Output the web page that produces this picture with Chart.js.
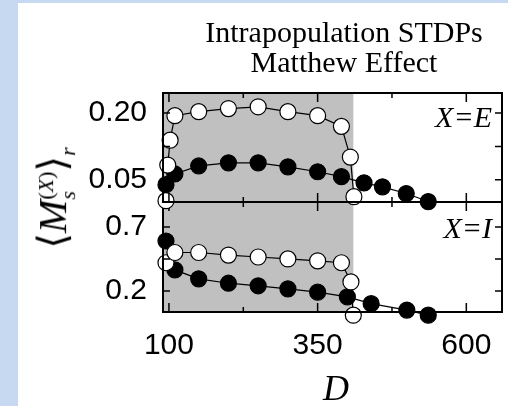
<!DOCTYPE html>
<html>
<head>
<meta charset="utf-8">
<script src="https://cdn.jsdelivr.net/npm/chart.js@4/dist/chart.umd.min.js"></script>
<style>
  body { margin: 0; background: #c6d9f1; width: 508px; height: 406px; overflow: hidden; position: relative; }
  #sheet { position: absolute; left: 18px; top: 3px; width: 490px; height: 403px; background: #fff; }
  canvas { position: absolute; left: 0; }
  .txt { position: absolute; font-family: "Liberation Serif", "DejaVu Serif", serif; color: #000; white-space: nowrap; }
</style>
</head>
<body>
<div id="sheet"></div>
<canvas id="lowChart" width="508" height="256" style="top:150px"></canvas>
<canvas id="topChart" width="508" height="250" style="top:0px"></canvas>

<div class="txt" style="left:344px; top:47px; transform:translate(-50%,-50%); font-size:30px; line-height:30px; text-align:center">Intrapopulation STDPs<br>Matthew Effect</div>
<div class="txt" style="right:16px; top:100px; font-size:30px; font-style:italic">X=E</div>
<div class="txt" style="right:16px; top:211px; font-size:30px; font-style:italic">X=I</div>
<div class="txt" style="left:336px; top:388px; transform:translate(-50%,-50%); font-size:36px; font-style:italic">D</div>
<div class="txt" id="ylab" style="left:55px; top:198px; transform:translate(-50%,-50%) rotate(-90deg); font-size:40px">&#x27E8;<i>M</i><span style="display:inline-flex; flex-direction:column; font-size:0.55em; line-height:1; vertical-align:middle"><span>(<i>X</i>)</span><span><i>s</i></span></span>&#x27E9;<span style="font-size:0.55em; vertical-align:-0.4em"><i>r</i></span></div>

<script>
// D and <M_s> values
const dEOpen = [95, 98, 102, 110, 150, 200, 250, 300, 350, 390, 405, 411];
const mEOpen = [0.003, 0.083, 0.139, 0.194, 0.203, 0.210, 0.214, 0.203, 0.194, 0.170, 0.101, 0.012];
const dEBlack = [95, 110, 150, 200, 250, 300, 350, 390, 428, 459, 499, 536];
const mEBlack = [0.039, 0.063, 0.081, 0.088, 0.088, 0.079, 0.068, 0.057, 0.043, 0.034, 0.019, 0.001];

const dIOpen = [95, 110, 150, 200, 250, 300, 350, 390, 406, 410];
const mIOpen = [0.42, 0.50, 0.50, 0.48, 0.465, 0.45, 0.435, 0.42, 0.27, 0.01];
const dIBlack = [95, 110, 150, 200, 250, 300, 350, 400, 440, 500, 536];
const mIBlack = [0.59, 0.364, 0.294, 0.26, 0.24, 0.216, 0.19, 0.153, 0.10, 0.05, 0.01];

const xTicks = [100, 225, 350, 475, 600];
const xLabels = [100, 350, 600];
const yTicksE = [0.05, 0.125, 0.20];
const yLabelsE = [0.05, 0.20];
const yTicksI = [0.2, 0.45, 0.7];
const yLabelsI = [0.2, 0.7];
const shadeEnd = 410; // grey region ends here (D)

function pts(xs, ys) {
  return xs.map((x, i) => ({ x: x, y: ys[i] }));
}

const framePlugin = {
  id: "frame",
  beforeDatasetsDraw(chart) {
    const a = chart.chartArea, ctx = chart.ctx;
    const xe = chart.scales.x.getPixelForValue(shadeEnd);
    ctx.save();
    ctx.fillStyle = "#c0c0c0";
    ctx.fillRect(a.left, a.top, xe - a.left, a.bottom - a.top);
    ctx.restore();
  },
  afterDraw(chart, args, opts) {
    const a = chart.chartArea, ctx = chart.ctx;
    ctx.save();
    ctx.strokeStyle = "#000";
    ctx.lineWidth = 1.5;
    opts.xTicks.forEach((v) => {
      const px = chart.scales.x.getPixelForValue(v);
      const len = xLabels.includes(v) ? 9 : 5;
      ctx.beginPath();
      ctx.moveTo(px, a.top); ctx.lineTo(px, a.top + len);
      ctx.moveTo(px, a.bottom); ctx.lineTo(px, a.bottom - len);
      ctx.stroke();
    });
    opts.yTicks.forEach((v) => {
      const py = chart.scales.y.getPixelForValue(v);
      ctx.beginPath();
      ctx.moveTo(a.left, py); ctx.lineTo(a.left + 7, py);
      ctx.moveTo(a.right, py); ctx.lineTo(a.right - 7, py);
      ctx.stroke();
    });
    ctx.lineWidth = 2;
    ctx.strokeRect(a.left, a.top, a.right - a.left, a.bottom - a.top);
    ctx.restore();
  },
};

function makeChart(id, openPts, blackPts, yMin, yMax, yTicks, yLabels, showX, pad) {
  return new Chart(document.getElementById(id).getContext("2d"), {
    type: "line",
    data: {
      datasets: [
        {
          data: openPts,
          borderColor: "#000",
          borderWidth: 1.2,
          pointRadius: 8,
          pointBackgroundColor: "#fff",
          pointBorderColor: "#000",
          pointBorderWidth: 1.2,
          clip: false,
        },
        {
          data: blackPts,
          borderColor: "#000",
          borderWidth: 1.2,
          pointRadius: 8,
          pointBackgroundColor: "#000",
          pointBorderColor: "#000",
          clip: false,
        },
      ],
    },
    options: {
      responsive: false,
      animation: false,
      layout: { autoPadding: false, padding: pad },
      plugins: {
        legend: { display: false },
        tooltip: { enabled: false },
        frame: { xTicks: xTicks, yTicks: yTicks },
      },
      scales: {
        x: {
          type: "linear",
          min: 90,
          max: 660,
          display: showX,
          grid: { display: false, drawTicks: false },
          border: { display: false },
          afterBuildTicks: (s) => { s.ticks = xTicks.map((v) => ({ value: v })); },
          afterFit: (s) => { s.height = showX ? 94 : 0; },
          ticks: {
            autoSkip: false,
            maxRotation: 0,
            padding: 16,
            color: "#000",
            font: { family: "'Liberation Sans', Arial, sans-serif", size: 30 },
            callback: (v) => (xLabels.includes(v) ? String(v) : ""),
          },
        },
        y: {
          min: yMin,
          max: yMax,
          grid: { display: false, drawTicks: false },
          border: { display: false },
          afterBuildTicks: (s) => { s.ticks = yTicks.map((v) => ({ value: v })); },
          afterFit: (s) => { s.width = 163; },
          ticks: {
            autoSkip: false,
            padding: 16,
            color: "#000",
            font: { family: "'Liberation Sans', Arial, sans-serif", size: 30 },
            callback: (v) => (yLabels.includes(v) ? (yMin < 0.01 ? v.toFixed(2) : String(v)) : ""),
          },
        },
      },
    },
    plugins: [framePlugin],
  });
}

makeChart("topChart", pts(dEOpen, mEOpen), pts(dEBlack, mEBlack), 0, 0.245,
  yTicksE, yLabelsE, false, { left: 0, right: 6, top: 93, bottom: 48 });
makeChart("lowChart", pts(dIOpen, mIOpen), pts(dIBlack, mIBlack), 0.035, 0.895,
  yTicksI, yLabelsI, true, { left: 0, right: 6, top: 52, bottom: 0 });
</script>
</body>
</html>
